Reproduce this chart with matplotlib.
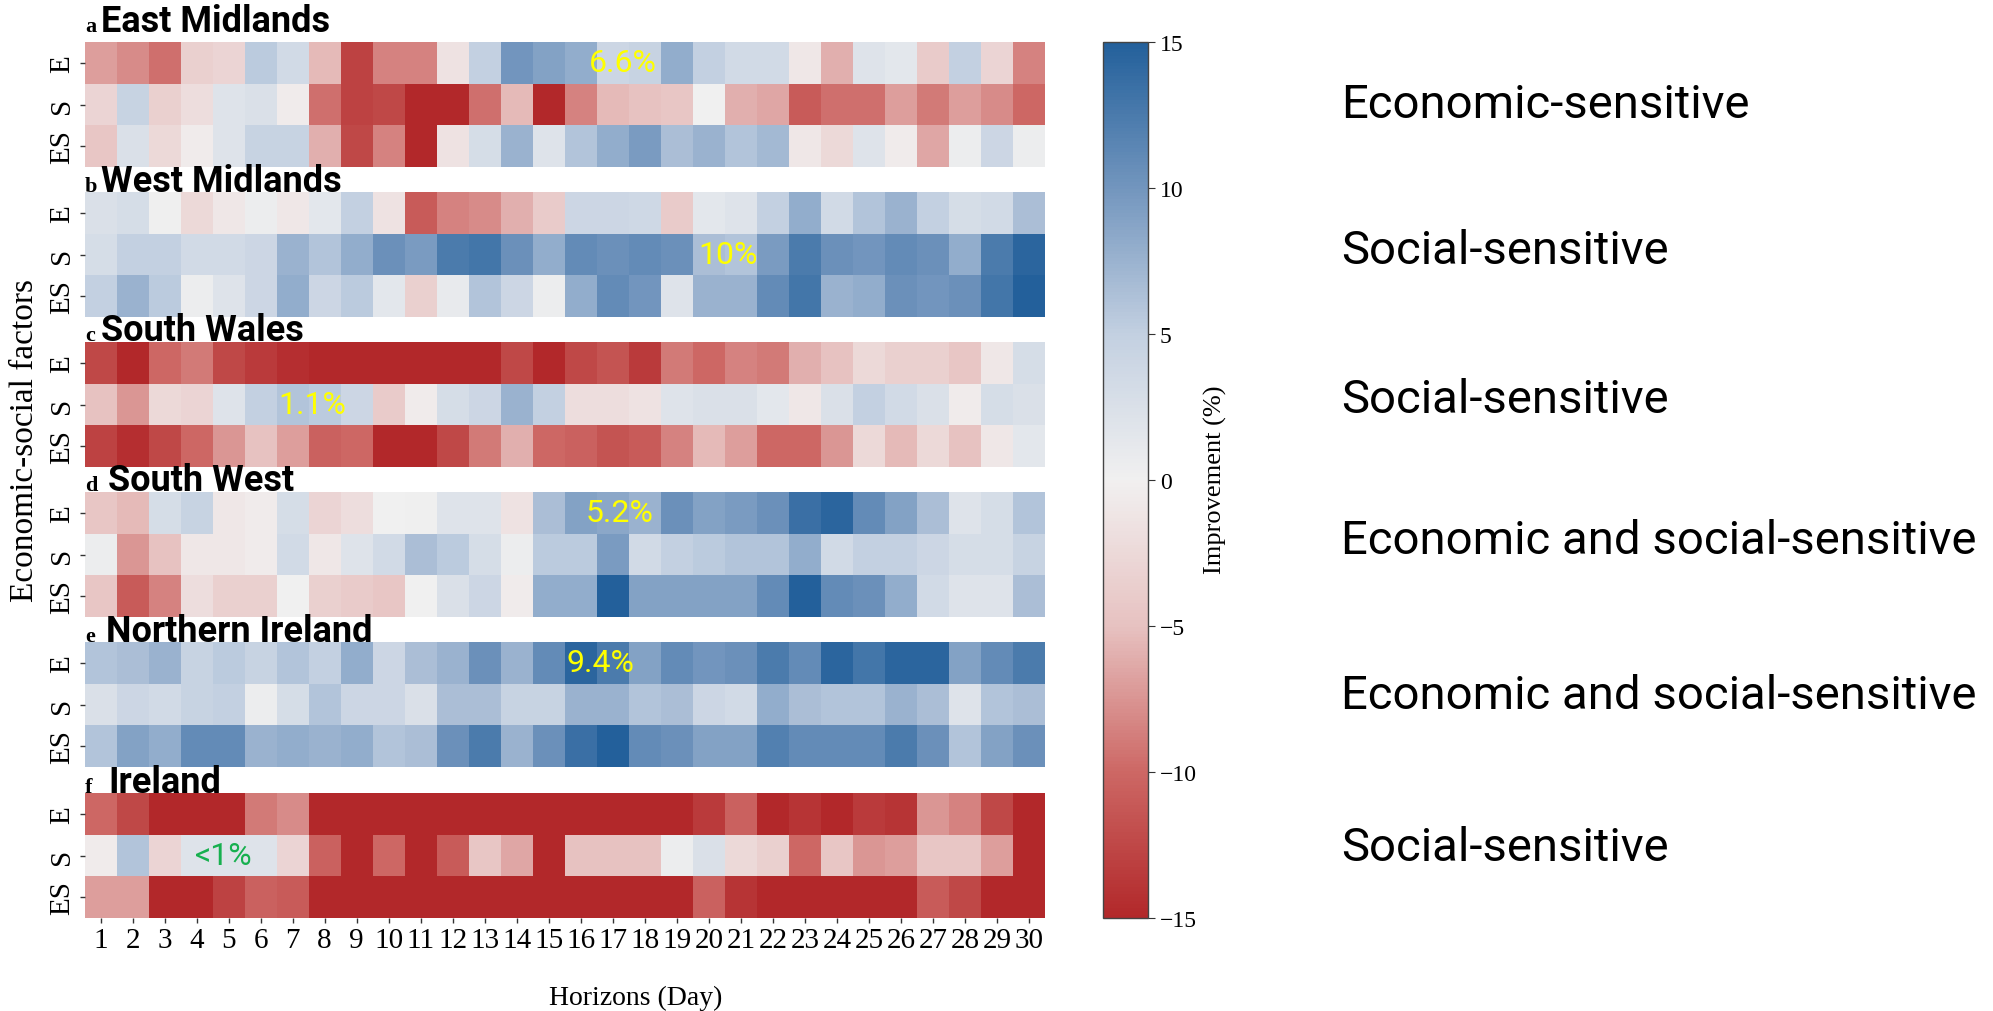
import numpy as np
import matplotlib
matplotlib.use('Agg')
import matplotlib.pyplot as plt
from matplotlib.colors import LinearSegmentedColormap

# rows: E, S, ES ; columns: horizon day 1..30 ; values: improvement (%)
days = list(range(1, 31))
rows = ['E', 'S', 'ES']

east_midlands_E = [-7, -8, -9.5, -3.5, -3, 5.5, 3.5, -5.5, -13, -8.5, -8.5, -1.5, 5, 10, 9, 8, 4, 4.5, 8, 5, 3.5, 3.5, -1, -6, 2, 1.5, -4, 5, -3, -8.5]
east_midlands_S = [-3, 4.5, -3.5, -2, 2, 2.5, -0.5, -9.5, -13, -12.5, -15, -15, -9.5, -5.5, -15, -8.5, -5.5, -5, -4.5, 0, -6, -6.5, -11, -9.5, -9.5, -7, -9, -7, -8, -10]
east_midlands_ES = [-4.5, 2.5, -2.5, -0.5, 2, 4.5, 4.5, -6, -12.5, -8.5, -15, -1.5, 3, 7.5, 2, 6, 8, 9.5, 6.5, 7.5, 6, 7, -1, -2.5, 2, -0.5, -6.5, 0.5, 4, 0.5]

west_midlands_E = [2.5, 3, 0.2, -2.5, -1, 0.5, -1, 1.5, 5, -1.5, -11, -8.5, -8, -6, -4, 4, 4, 3.8, -4, 1.5, 2, 5, 8, 3.5, 6, 7.5, 5, 3, 3.5, 6.5]
west_midlands_S = [3, 5, 5, 3.5, 3.5, 4, 7.5, 6, 8, 10.5, 9.5, 12.5, 13, 10.5, 8, 11, 10.5, 11, 10.5, 6.5, 6, 9.5, 12.5, 10.5, 10, 11, 10.5, 8, 12.5, 14.5]
west_midlands_ES = [5, 7.5, 5.5, 0.5, 2, 4, 8, 4, 5.5, 1.5, -3.5, 1, 6, 4, 0.5, 8, 11, 10, 2, 7.5, 7.5, 11, 13, 7.5, 8, 10.5, 10, 10.5, 13, 15]

south_wales_E = [-12.5, -15, -10, -9, -12.5, -13.5, -14.5, -15, -15, -15, -15, -15, -15, -12.5, -15, -12.5, -11.5, -13.5, -9, -10, -8.5, -9, -6, -5, -2.5, -3.5, -3.5, -4.5, -1, 3]
south_wales_S = [-5, -7.5, -2.5, -3, 2, 5, 6, 5.5, 4, -4, -0.5, 3, 4, 7.5, 5, -2, -2, -1.5, 2, 2.5, 2.5, 1.5, -1, 2.5, 5, 3.5, 2.5, -0.5, 3, 2.5]
south_wales_ES = [-13, -14.5, -12.5, -10, -7.5, -5, -7, -10.5, -10, -15, -15, -12.5, -9, -6, -10, -10.5, -11.5, -11, -8.5, -5.5, -7, -10, -10, -7.5, -2.5, -5.5, -2.5, -5, -1, 1.5]

south_west_E = [-4.5, -5.5, 3, 4.5, -1, -0.5, 3, -3, -2, 0, 0.2, 2, 2, -1.5, 6.5, 9, 8.5, 7.5, 10.5, 9, 9.5, 10.5, 13.5, 14.5, 11, 9, 6.5, 2, 3, 6]
south_west_S = [0.5, -7.5, -5, -1, -1, -0.5, 3.5, -1, 2, 3.5, 6.5, 5.5, 3, 0.5, 5.5, 5.5, 9.5, 3.5, 5, 5.5, 6, 6, 8, 3.5, 5, 5, 4, 3, 3, 4.5]
south_west_ES = [-4.5, -11, -8.5, -2, -3.5, -3.5, 0, -3.5, -4, -4.5, 0, 2.5, 4, -0.5, 8, 8, 15, 9, 9, 9, 9, 11, 15, 11, 10.5, 8, 3.5, 2, 2, 6.5]

northern_ireland_E = [6, 6.5, 7.5, 4.5, 5.5, 4.5, 6, 5, 8, 4, 6.5, 7.5, 10.5, 7.5, 11, 14.5, 12.5, 9, 11, 10, 10.5, 12.5, 11, 14.5, 13, 14.5, 14.5, 9, 11, 12.5]
northern_ireland_S = [2.5, 4, 3.5, 4.5, 5, 0.5, 3, 6, 4, 4, 2.5, 6.5, 6.5, 4.5, 4.5, 7.5, 7.5, 6, 6.5, 4, 3.5, 8, 6.5, 6, 6, 7.5, 6.5, 2, 6, 6.5]
northern_ireland_ES = [6, 9, 8, 11, 11, 7.5, 8, 7.5, 8, 6, 6.5, 10.5, 12.5, 7.5, 10.5, 13.5, 15, 11, 10.5, 9, 9, 12, 11, 11, 11, 12.5, 10.5, 6, 9, 10.5]

ireland_E = [-10, -12.5, -15, -15, -15, -9, -8, -15, -15, -15, -15, -15, -15, -15, -15, -15, -15, -15, -15, -13.5, -10.5, -15, -14, -15, -13.5, -14, -7.5, -8.5, -12.5, -15]
ireland_S = [-0.5, 6, -3, 2, 2, 2, -3, -10.5, -15, -10, -15, -11, -4.5, -6.5, -15, -5, -5, -5, 0.5, 2.5, -2.5, -3.5, -10, -4.5, -7.5, -7, -4.5, -4.5, -7, -15]
ireland_ES = [-7, -7, -15, -15, -13, -10.5, -11, -15, -15, -15, -15, -15, -15, -15, -15, -15, -15, -15, -15, -10.5, -14, -15, -15, -15, -15, -15, -11, -12.5, -15, -15]

letters = ['a', 'b', 'c', 'd', 'e', 'f']
regions = ['East Midlands', 'West Midlands', 'South Wales', 'South West', 'Northern Ireland', 'Ireland']
panels = [
    [east_midlands_E, east_midlands_S, east_midlands_ES],
    [west_midlands_E, west_midlands_S, west_midlands_ES],
    [south_wales_E, south_wales_S, south_wales_ES],
    [south_west_E, south_west_S, south_west_ES],
    [northern_ireland_E, northern_ireland_S, northern_ireland_ES],
    [ireland_E, ireland_S, ireland_ES],
]
# best improvement labels: (text, day position, row)
best_labels = [('6.6%', 17.3, 0), ('10%', 20.6, 1), ('1.1%', 7.6, 1),
               ('5.2%', 17.2, 0), ('9.4%', 16.6, 0), ('<1%', 4.85, 1)]
sensitivity = ['Economic-sensitive', 'Social-sensitive', 'Social-sensitive',
               'Economic and social-sensitive', 'Economic and social-sensitive',
               'Social-sensitive']

W, H = 1993, 1012
fig = plt.figure(figsize=(W / 100, H / 100), dpi=100)

def rect(x0, y0, x1, y1):
    return [x0 / W, 1 - y1 / H, (x1 - x0) / W, (y1 - y0) / H]

cmap = LinearSegmentedColormap.from_list('imp', [
    (0.0, '#b2282a'), (1 / 6, '#cd6865'), (2 / 6, '#e7c2c1'), (0.5, '#f1f0f0'),
    (4 / 6, '#c3d0e1'), (5 / 6, '#7396be'), (1.0, '#23609b')])

serif = 'Liberation Serif'

tops = [43, 193, 343, 493, 643, 794]
title_x = [101, 101, 101, 108, 106, 108]
title_base = [32, 192, 341, 491, 642, 793]
text_base = [118, 264, 413, 554, 709, 861]

for i, vals in enumerate(panels):
    ax = fig.add_axes(rect(84.5, tops[i], 1045, tops[i] + 125))
    data = np.array(vals)
    mesh = ax.pcolormesh(np.arange(0.5, 31), np.arange(-0.5, 3), data,
                         cmap=cmap, vmin=-15, vmax=15)
    ax.set_xlim(0.5, 30.5)
    ax.set_ylim(2.5, -0.5)
    ax.set_yticks(range(3))
    ax.set_yticklabels(rows, rotation=90, va='center', fontsize=21, family=serif)
    if i == len(panels) - 1:
        ax.set_xticks(days)
        ax.set_xticklabels([str(d) for d in days], fontsize=21, family=serif)
    else:
        ax.set_xticks([])
    ax.tick_params(length=3.5, width=1, color='#333333', pad=3)
    for s in ax.spines.values():
        s.set_visible(False)

    txt, xpos, row = best_labels[i]
    color = '#17b04f' if txt == '<1%' else '#ffff00'
    ax.text(xpos, row, txt, color=color, fontsize=23, family='Roboto',
            ha='center', va='center')

    fig.text(85 / W, 1 - title_base[i] / H, letters[i], fontsize=16,
             family=serif, weight='bold', va='baseline')
    fig.text(title_x[i] / W, 1 - title_base[i] / H, regions[i], fontsize=26,
             family='Roboto', weight='bold', va='baseline')
    fig.text(1341 / W, 1 - text_base[i] / H, sensitivity[i], fontsize=34,
             family='Roboto', va='baseline')

cax = fig.add_axes(rect(1103, 43, 1148, 919))
cb = fig.colorbar(mesh, cax=cax, ticks=[-15, -10, -5, 0, 5, 10, 15])
cb.outline.set_edgecolor('#444444')
cb.outline.set_linewidth(1)
cax.tick_params(labelsize=17, length=5, color='#333333')
for lab in cax.get_yticklabels():
    lab.set_family(serif)

fig.text(1215 / W, 1 - 480 / H, 'Improvement (%)', rotation=90, ha='center',
         va='center', fontsize=19, family=serif)
fig.text(25 / W, 1 - 441 / H, 'Economic-social factors', rotation=90,
         ha='center', va='center', fontsize=24, family=serif)
fig.text(636 / W, 1 - 998 / H, 'Horizons (Day)', ha='center', va='center',
         fontsize=20, family=serif)

fig.savefig('out.png', dpi=100)
